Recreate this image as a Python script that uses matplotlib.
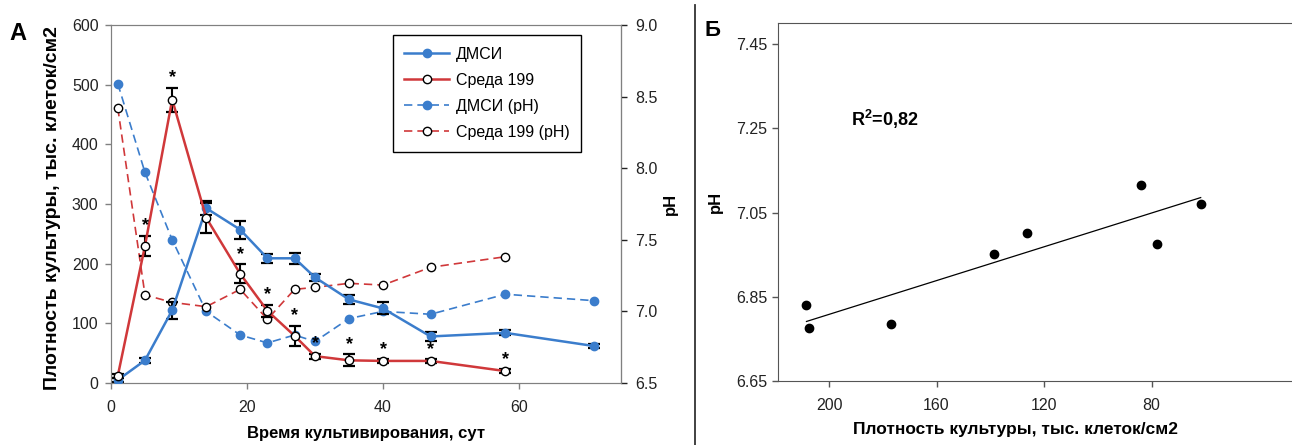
import numpy as np
import matplotlib
matplotlib.use("Agg")
import matplotlib.pyplot as plt
from matplotlib.lines import Line2D

plt.rcParams['font.family'] = ['Liberation Sans', 'DejaVu Sans']
plt.rcParams['mathtext.fontset'] = 'custom'
plt.rcParams['mathtext.rm'] = 'Liberation Sans'
plt.rcParams['mathtext.bf'] = 'Liberation Sans:bold'

# --- panel A data ---
days_dmsi = [1, 5, 9, 14, 19, 23, 27, 30, 35, 40, 47, 58, 71]
dens_dmsi = [5, 38, 122, 293, 257, 209, 209, 177, 140, 125, 78, 84, 62]
err_dmsi = [3, 4, 14, 12, 15, 8, 9, 6, 7, 10, 8, 4, 4]
ph_dmsi = [8.59, 7.97, 7.50, 7.00, 6.835, 6.78, 6.835, 6.79, 6.95, 7.00, 6.98, 7.12, 7.075]

days_m199 = [1, 5, 9, 14, 19, 23, 27, 30, 35, 40, 47, 58]
dens_m199 = [12, 230, 475, 277, 183, 121, 79, 45, 38, 37, 37, 20]
err_m199 = [3, 17, 20, 25, 16, 10, 17, 4, 10, 3, 3, 3]
ph_m199 = [8.42, 7.115, 7.063, 7.033, 7.154, 6.945, 7.154, 7.168, 7.196, 7.184, 7.308, 7.382]
star_days = [5, 9, 19, 23, 27, 30, 35, 40, 47, 58]

# --- panel B data ---
dens_corr = [208.4, 207.5, 176.8, 138.7, 126.2, 84.0, 77.8, 61.7]
ph_corr = [6.831, 6.775, 6.785, 6.951, 7.001, 7.116, 6.976, 7.071]

blue = '#3b7dcc'
red = '#d0383a'
grey = '#808080'

fig = plt.figure(figsize=(12.92, 4.45), dpi=100)

# ---------- panel A ----------
ax = fig.add_axes([111/1292, 62/445, 510/1292, 358/445])
ax2 = ax.twinx()

ax.errorbar(days_dmsi, dens_dmsi, yerr=err_dmsi, fmt='none', ecolor='k',
            elinewidth=1.5, capsize=4, capthick=1.6, zorder=2)
ax.errorbar(days_m199, dens_m199, yerr=err_m199, fmt='none', ecolor='k',
            elinewidth=1.5, capsize=4, capthick=1.6, zorder=2)
l1, = ax.plot(days_dmsi, dens_dmsi, '-o', color=blue, lw=1.8, ms=6,
              mfc=blue, mec=blue, label='ДМСИ', zorder=3)
l2, = ax.plot(days_m199, dens_m199, '-o', color=red, lw=1.8, ms=6,
              mfc='white', mec='k', mew=1, label='Среда 199', zorder=3)

# significance stars above the error bars
for d in star_days:
    i = days_m199.index(d)
    ax.annotate('*', (d, dens_m199[i] + err_m199[i]), xytext=(0, 1),
                textcoords='offset points', ha='center', va='bottom',
                fontsize=13, fontweight='bold')

# pH series on the right axis
ax.set_zorder(ax2.get_zorder() + 1)
ax.patch.set_visible(False)
l3, = ax.plot([], [], '--o', color=blue, lw=1.2, ms=6, mfc=blue, mec=blue,
              dashes=(5, 3), label='ДМСИ (pH)')
l4, = ax.plot([], [], '--o', color=red, lw=1.2, ms=6, mfc='white', mec='k',
              mew=1, dashes=(5, 3), label='Среда 199 (pH)')
ax2.plot(days_dmsi, ph_dmsi, '--o', color=blue, lw=1.2, ms=6, mfc=blue,
         mec=blue, dashes=(5, 3))
ax2.plot(days_m199, ph_m199, '--o', color=red, lw=1.2, ms=6, mfc='white',
         mec='k', mew=1, dashes=(5, 3))

ax.set_xlim(0, 75)
ax.set_ylim(0, 600)
ax2.set_ylim(6.5, 9.0)
ax.set_xticks([0, 20, 40, 60])
ax.set_yticks(range(0, 601, 100))
ax2.set_yticks([6.5, 7.0, 7.5, 8.0, 8.5, 9.0])
ax2.set_yticklabels(['6.5', '7.0', '7.5', '8.0', '8.5', '9.0'])

for a in (ax, ax2):
    a.tick_params(direction='out', length=4, width=1, labelsize=11.5,
                  colors='#222222')
    for s in a.spines.values():
        s.set_color(grey)
ax2.spines['right'].set_color('k')
ax.tick_params(axis='both', color=grey)
ax.tick_params(axis='x', pad=8)
ax.tick_params(axis='y', pad=5)
ax2.tick_params(axis='y', pad=6)

ax.set_xlabel('Время культивирования, сут', fontsize=12, fontweight='bold',
              labelpad=8)
ax.set_ylabel('Плотность культуры, тыс. клеток/см2', fontsize=14,
              fontweight='bold')
ax.yaxis.set_label_coords(-0.098, 0.49)
ax2.set_ylabel('pH', fontsize=12, fontweight='bold', labelpad=4)

leg = ax.legend(handles=[l1, l2, l3, l4], loc='upper left',
                bbox_to_anchor=(0.552, 0.972), borderaxespad=0,
                fontsize=11.5, frameon=True, fancybox=False, edgecolor='k',
                framealpha=1, handlelength=2.8, borderpad=0.75,
                labelspacing=0.68, handletextpad=0.4)
leg.get_frame().set_linewidth(1)

fig.text(9/1292, 1 - 33/445, 'А', fontsize=17, fontweight='bold',
         va='center', ha='left')

# ---------- divider ----------
fig.add_artist(Line2D([695/1292, 695/1292], [0, 1 - 5/445], color='#333333',
                      lw=1.3))

# ---------- panel B ----------
bx = fig.add_axes([778/1292, 64/445, 517/1292, 358/445])
bx.scatter(dens_corr, ph_corr, s=36, color='k', zorder=3)
k, b = np.polyfit(dens_corr, ph_corr, 1)
xs = np.array([max(dens_corr), min(dens_corr)])
bx.plot(xs, k * xs + b, color='k', lw=0.9)

bx.set_xlim(219, 26.6)
bx.set_ylim(6.65, 7.50)
bx.set_xticks([200, 160, 120, 80])
bx.set_yticks([6.65, 6.85, 7.05, 7.25, 7.45])
bx.set_yticklabels(['6.65', '6.85', '7.05', '7.25', '7.45'])
bx.tick_params(direction='out', length=4, width=1, labelsize=11.5,
               colors='#222222')
bx.tick_params(axis='x', pad=8)
for s in bx.spines.values():
    s.set_color('#555555')
bx.tick_params(axis='both', color='#555555')
bx.set_xlabel('Плотность культуры, тыс. клеток/см2', fontsize=12.5,
              fontweight='bold')
bx.xaxis.set_label_coords(0.459, -0.115)
bx.set_ylabel('pH', fontsize=12, fontweight='bold', labelpad=10)
bx.text(192, 7.272, r'R$^{\mathbf{2}}$=0,82', fontsize=13, fontweight='bold',
        ha='left', va='center')

fig.text(704/1292, 1 - 31/445, 'Б', fontsize=16, fontweight='bold',
         va='center', ha='left')

fig.savefig('out.png', dpi=100)
